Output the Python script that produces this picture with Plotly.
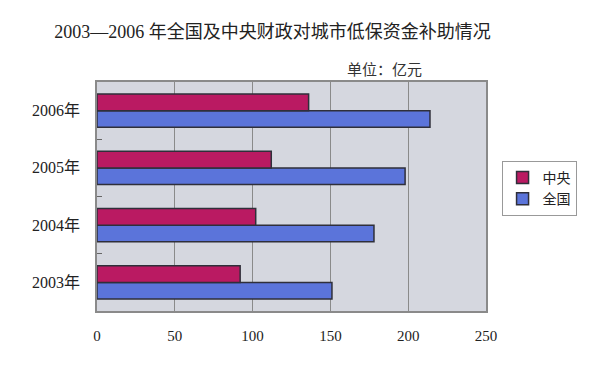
import plotly.graph_objects as go

years = ["2003年", "2004年", "2005年", "2006年"]
central = [92, 102, 112, 136]
national = [151, 178, 198, 214]
x_ticks = [0, 50, 100, 150, 200, 250]

serif = "Liberation Serif, Noto Sans CJK SC"

fig = go.Figure()
fig.add_trace(go.Bar(
    y=years, x=national, name="全国", orientation="h",
    marker=dict(color="#5B74DA", line=dict(color="#2f2f3a", width=1.5)),
))
fig.add_trace(go.Bar(
    y=years, x=central, name="中央", orientation="h",
    marker=dict(color="#BA1A62", line=dict(color="#2f2f3a", width=1.5)),
))

fig.update_layout(
    width=600, height=369,
    barmode="group", bargap=0.42, bargroupgap=0,
    paper_bgcolor="white", plot_bgcolor="#D5D7DF",
    margin=dict(l=97, r=114, t=82, b=58, autoexpand=False),
    title=dict(text="2003—2006 年全国及中央财政对城市低保资金补助情况",
               x=0.454, xanchor="center", y=0.915, yanchor="middle",
               font=dict(family=serif, size=18, color="#222")),
    showlegend=True,
    legend=dict(x=1.04, y=0.655, xanchor="left", yanchor="top",
                traceorder="reversed", bgcolor="white",
                bordercolor="#999", borderwidth=1,
                font=dict(family=serif, size=14, color="#222"),
                itemwidth=30, tracegroupgap=2),
    font=dict(family=serif, color="#222"),
)
fig.update_xaxes(
    range=[0, 250], tickvals=x_ticks, ticktext=[str(v) for v in x_ticks],
    showgrid=True, gridcolor="#8a8a8a", gridwidth=1,
    showline=True, linecolor="#8a8a8a", mirror=True, linewidth=1.5,
    zeroline=False, ticks="", ticklabelstandoff=10, automargin=False,
    tickfont=dict(family=serif, size=15, color="#222"),
)
fig.update_yaxes(
    categoryorder="array", categoryarray=years,
    showline=True, linecolor="#8a8a8a", mirror=True, linewidth=1.5,
    ticks="inside", ticklen=5, tickcolor="#666", tickson="boundaries",
    tickfont=dict(family=serif, size=16, color="#222"),
    ticklabelstandoff=12, automargin=False,
)
fig.add_annotation(text="单位：亿元", xref="paper", yref="paper",
                   x=0.84, y=1.0, xanchor="right", yanchor="bottom", yshift=2,
                   showarrow=False, font=dict(family=serif, size=15, color="#333"))

fig.write_html("out.html", config={"displayModeBar": False},
               post_script="document.body.style.margin='0';")
